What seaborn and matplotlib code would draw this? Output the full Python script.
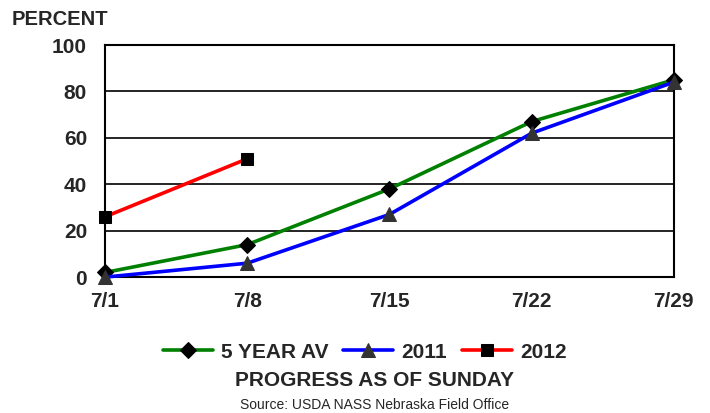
import numpy as np
import pandas as pd
import matplotlib
matplotlib.use("Agg")
import matplotlib.pyplot as plt
import seaborn as sns

# -----------------------------
# Data
# -----------------------------
weeks = ["7/1", "7/8", "7/15", "7/22", "7/29"]
avg_5yr = [2, 14, 38, 67, 85]
y2011 = [0, 6, 27, 62, 84]
y2012 = [26, 51]

sns.set_style("white")
plt.rcParams["font.family"] = ["Liberation Sans", "DejaVu Sans"]

fig = plt.figure(figsize=(7.1, 4.13), dpi=100)
ax = fig.add_axes([0.148, 0.329, 0.801, 0.562])

pos = np.arange(len(weeks))
lw = 2.6

sns.lineplot(x=pos, y=avg_5yr, ax=ax, color="#008000", lw=lw, marker="D",
             markersize=8, markerfacecolor="black", markeredgecolor="black",
             label="5 YEAR AV", zorder=3, clip_on=False)
sns.lineplot(x=pos, y=y2011, ax=ax, color="#0000ff", lw=lw, marker="^",
             markersize=10, markerfacecolor="#333333", markeredgecolor="#333333",
             label="2011", zorder=3, clip_on=False)
sns.lineplot(x=pos[:len(y2012)], y=y2012, ax=ax, color="#ff0000", lw=lw, marker="s",
             markersize=8, markerfacecolor="black", markeredgecolor="black",
             label="2012", zorder=3, clip_on=False)

ax.set_xlim(0, len(weeks) - 1)
ax.set_ylim(0, 100)
ax.set_yticks(range(0, 101, 20))
ax.set_xticks(pos)
ax.set_xticklabels(weeks)
ax.yaxis.grid(True, color="black", lw=1.2)
ax.set_axisbelow(True)
for s in ax.spines.values():
    s.set_color("black")
    s.set_linewidth(1.5)
ax.tick_params(axis="both", length=0, labelsize=15)
ax.tick_params(axis="x", pad=11)
ax.tick_params(axis="y", pad=13)
for lab in ax.get_xticklabels() + ax.get_yticklabels():
    lab.set_fontweight("bold")

fig.text(0.017, 0.952, "PERCENT", fontsize=14.5, fontweight="bold", ha="left", va="center")

leg = ax.legend(loc="center", ncol=3, frameon=False, handlelength=2.4, columnspacing=0.7,
                handletextpad=0.4, prop={"weight": "bold", "size": 15})
leg.set_bbox_to_anchor((0.514, 1 - 352 / 413), transform=fig.transFigure)

fig.text(0.527, 1 - 381 / 413, "PROGRESS AS OF SUNDAY", fontsize=15, fontweight="bold",
         ha="center", va="center")
fig.text(0.527, 1 - 405 / 413, "Source: USDA NASS Nebraska Field Office", fontsize=10,
         ha="center", va="center")

fig.savefig("out.png", dpi=100, facecolor="white")
